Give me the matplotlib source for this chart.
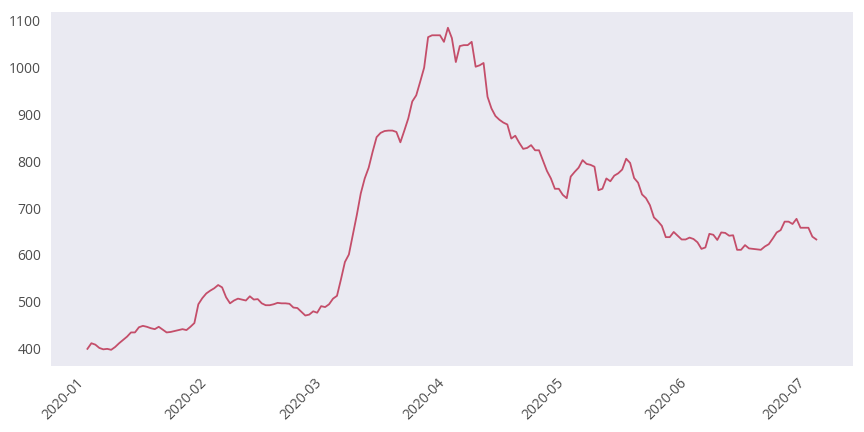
import matplotlib
matplotlib.use("Agg")
import matplotlib.pyplot as plt
import matplotlib.dates as mdates
import pandas as pd

start_date = "2020-01-01"
values = [
    400, 412, 409, 402, 399, 400, 398, 404, 412, 419,
    426, 435, 435, 446, 449, 447, 444, 442, 447, 441,
    435, 436, 438, 440, 442, 440, 447, 455, 495, 508,
    518, 524, 529, 536, 531, 510, 497, 503, 507, 505,
    503, 512, 505, 506, 497, 493, 493, 495, 498, 497,
    497, 496, 488, 487, 479, 471, 473, 480, 477, 491,
    489, 495, 507, 513, 548, 585, 601, 643, 685, 731,
    763, 786, 820, 851, 860, 864, 865, 865, 862, 840,
    865, 891, 927, 940, 969, 999, 1064, 1068, 1068, 1068,
    1054, 1084, 1062, 1011, 1045, 1047, 1047, 1054, 1001, 1004,
    1009, 937, 912, 896, 888, 882, 878, 848, 854, 839,
    826, 828, 834, 823, 823, 801, 779, 763, 741, 741,
    728, 721, 767, 777, 786, 802, 794, 792, 788, 738,
    741, 763, 757, 769, 774, 782, 805, 796, 764, 754,
    729, 721, 706, 680, 672, 662, 638, 638, 649, 641,
    633, 633, 637, 634, 627, 613, 616, 645, 643, 632,
    648, 647, 641, 642, 611, 611, 621, 614, 613, 612,
    611, 618, 623, 635, 648, 653, 671, 671, 666, 677,
    658, 658, 658, 639, 633,
]
y_ticks = [400, 500, 600, 700, 800, 900, 1000, 1100]

dates = pd.date_range(start_date, periods=len(values), freq="D")

plt.rcParams["font.family"] = ["Open Sans", "DejaVu Sans"]

fig = plt.figure(figsize=(8.64, 4.32), dpi=100)
ax = fig.add_axes([0.059, 0.153, 0.928, 0.820])
ax.set_facecolor("#EAEAF2")
for s in ax.spines.values():
    s.set_visible(False)

ax.plot(dates, values, color="#C44E6A", lw=1.3)

ax.xaxis.set_major_locator(mdates.MonthLocator())
ax.xaxis.set_major_formatter(mdates.DateFormatter("%Y-%m"))
ax.set_yticks(y_ticks)
ax.tick_params(length=0, pad=7, labelsize=10, labelcolor="#4d4d4d")
plt.setp(ax.get_xticklabels(), rotation=45, ha="right")

fig.savefig("out.png", dpi=100)
